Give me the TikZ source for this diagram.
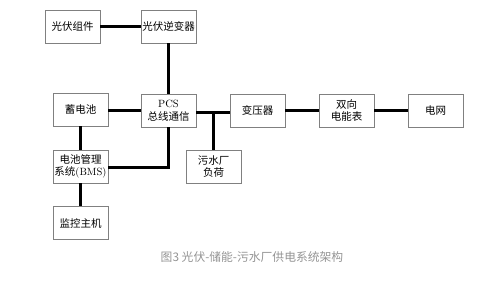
\documentclass[tikz,border=0pt]{standalone}
\usepackage{fontspec}
\newfontfamily\cjk{Noto Sans CJK SC}
\begin{document}
\begin{tikzpicture}[x=1pt,y=-1pt,
  box/.style={draw=black!50,line width=0.8pt,fill=white,minimum width=55pt,minimum height=33pt,inner sep=0pt,align=center,font=\fontsize{10.5}{12.5}\selectfont\cjk},
  wire/.style={line width=3pt,black}]
\useasboundingbox (0,0) rectangle (489,282);
\node[box] (pv) at (72.5,26.5) {光伏组件};
\node[box] (inv) at (168.5,26.5) {光伏逆变器};
\node[box] (pcs) at (168.5,110.5) {{\rmfamily PCS}\\总线通信};
\node[box] (bat) at (80.5,109.5) {蓄电池};
\node[box] (bms) at (80.5,166.5) {电池管理\\系统{\rmfamily(BMS)}};
\node[box] (mon) at (80.5,223) {监控主机};
\node[box] (tr) at (257.5,110.5) {变压器};
\node[box] (load) at (213.5,166.5) {污水厂\\负荷};
\node[box] (meter) at (346.5,110.5) {双向\\电能表};
\node[box] (grid) at (435.5,110.5) {电网};
\coordinate (j) at (213.5,112.5);
\draw[wire] (pv) -- (inv);
\draw[wire] (inv) -- (pcs);
\draw[wire] (bat.east |- 0,110) -- (pcs.west |- 0,110);
\draw[wire] (bat) -- (bms);
\draw[wire] (bms) -- (mon);
\draw[wire] (bms.east |- 0,167) -| (pcs.south);
\draw[wire] (pcs.east |- j) -- (tr.west |- j);
\draw[wire] (j) -- (load.north);
\draw[wire] (tr) -- (meter);
\draw[wire] (meter) -- (grid);
\node[font=\fontsize{11.8}{13}\selectfont\cjk,text=black!42] (cap) at (252,257) {图3 光伏-储能-污水厂供电系统架构};
\end{tikzpicture}
\end{document}
